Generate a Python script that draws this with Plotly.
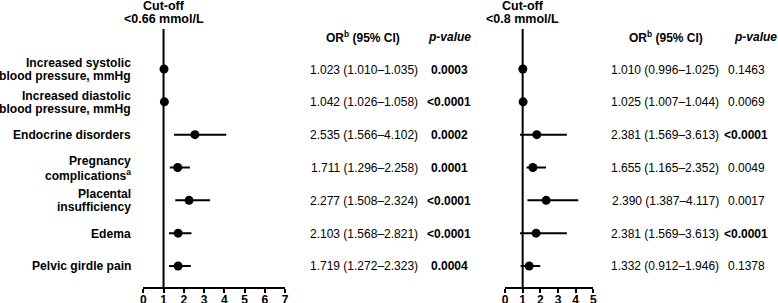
import plotly.graph_objects as go

# ---------------- data ----------------
row_keys = ["sys", "dia", "endo", "preg", "plac", "edema", "pelvic"]
row_labels = [
    ["Increased systolic", "blood pressure, mmHg"],
    ["Increased diastolic", "blood pressure, mmHg"],
    ["Endocrine disorders"],
    ["Pregnancy", "complications<sup>a</sup>"],
    ["Placental", "insufficiency"],
    ["Edema"],
    ["Pelvic girdle pain"],
]

# plotted odds ratios / CI (as drawn), cut-off <0.66 mmol/L
or_066 = [1.023, 1.042, 2.55, 1.70, 2.26, 1.72, 1.72]
lo_066 = [1.010, 1.026, 1.52, 1.31, 1.58, 1.27, 1.27]
hi_066 = [1.035, 1.058, 4.10, 2.30, 3.30, 2.38, 2.35]

# plotted odds ratios / CI (as drawn), cut-off <0.8 mmol/L
or_08 = [1.010, 1.025, 1.80, 1.58, 2.33, 1.76, 1.37]
lo_08 = [0.996, 1.007, 0.85, 1.22, 1.27, 0.85, 0.88]
hi_08 = [1.025, 1.044, 3.50, 2.32, 4.15, 3.50, 2.00]

ci_text_066 = ["1.023 (1.010–1.035)", "1.042 (1.026–1.058)", "2.535 (1.566–4.102)",
               "1.711 (1.296–2.258)", "2.277 (1.508–2.324)", "2.103 (1.568–2.821)",
               "1.719 (1.272–2.323)"]
p_066 = ["0.0003", "<0.0001", "0.0002", "0.0001", "<0.0001", "<0.0001", "0.0004"]

ci_text_08 = ["1.010 (0.996–1.025)", "1.025 (1.007–1.044)", "2.381 (1.569–3.613)",
              "1.655 (1.165–2.352)", "2.390 (1.387–4.117)", "2.381 (1.569–3.613)",
              "1.332 (0.912–1.946)"]
p_08 = ["0.1463", "0.0069", "<0.0001", "0.0049", "0.0017", "<0.0001", "0.1378"]

ticks_066 = [0, 1, 2, 3, 4, 5, 6, 7]
ticks_08 = [0, 1, 2, 3, 4, 5]

# ---------------- layout helpers ----------------
W, H = 778, 303
FONT = "Liberation Sans, Arial, Helvetica, sans-serif"
AX_Y = 287.3  # pixel y of x-axis line
LBL_SIZE = 12.1
TBL_SIZE = 12.0


def px(x):
    return x / W


def py(y):
    return (H - y) / H


def p_num(s):
    return float(s.replace("<", ""))


def p_fmt(s):
    t = s.replace("<", "&lt;")
    return f"<b>{t}</b>" if p_num(s) < 0.001 else t


fig = go.Figure()

for xs, los, his, xa in [(or_066, lo_066, hi_066, "x"), (or_08, lo_08, hi_08, "x2")]:
    fig.add_trace(go.Scatter(
        x=xs, y=row_keys, mode="markers", xaxis=xa, yaxis="y",
        marker=dict(color="black", size=9),
        error_x=dict(type="data", symmetric=False,
                     array=[h - v for h, v in zip(his, xs)],
                     arrayminus=[v - l for v, l in zip(xs, los)],
                     color="black", thickness=2, width=0),
        showlegend=False, cliponaxis=False,
    ))

axis_common = dict(showgrid=False, zeroline=False, showline=True, linecolor="black",
                   linewidth=2, ticks="outside", ticklen=4, tickwidth=2, tickcolor="black",
                   tickfont=dict(family=FONT, size=12, color="black", weight="bold"),
                   anchor="y", fixedrange=True, automargin=False, ticklabelstandoff=-4)

fig.update_layout(
    template="none",
    width=W, height=H,
    margin=dict(l=0, r=0, t=0, b=0, autoexpand=False),
    paper_bgcolor="white", plot_bgcolor="white",
    font=dict(family=FONT, color="black"),
    xaxis=dict(domain=[px(143.3), px(285.0)], range=[0, 7], tickvals=ticks_066, **axis_common),
    xaxis2=dict(domain=[px(505.0), px(593.3)], range=[0, 5], tickvals=ticks_08, **axis_common),
    yaxis=dict(domain=[py(AX_Y), 1], range=[6.649, -2.102], type="category",
               categoryorder="array", categoryarray=row_keys, automargin=False,
               showticklabels=False, showgrid=False, zeroline=False, showline=False,
               fixedrange=True),
)

# reference lines at OR = 1
for xr in ["x", "x2"]:
    fig.add_shape(type="line", xref=xr, yref="paper", x0=1, x1=1,
                  y0=py(AX_Y), y1=py(29), line=dict(color="black", width=2))

ann = []
LINE_GAP = 13.3
for key, lines in zip(row_keys, row_labels):
    n = len(lines)
    for i, ln in enumerate(lines):
        shift = ((n - 1) / 2 - i) * LINE_GAP
        ann.append(dict(x=px(133), xref="paper", xanchor="right", y=key, yref="y",
                        yanchor="middle", yshift=shift - 0.5, showarrow=False,
                        text=f"<b>{ln}</b>", font=dict(size=LBL_SIZE, family=FONT, color="black")))

# panel headers
for xr, lines in [("x", ["Cut-off", "&lt;0.66 mmol/L"]), ("x2", ["Cut-off", "&lt;0.8 mmol/L"])]:
    for ln, ypix in zip(lines, [6.5, 19]):
        ann.append(dict(x=1, xref=xr, xanchor="center", y=py(ypix), yref="paper",
                        yanchor="middle", showarrow=False, text=f"<b>{ln}</b>",
                        font=dict(size=12.5, family=FONT, color="black")))

# table headers
for xc, txt in [(363, "<b>OR<sup>b</sup> (95% CI)</b>"), (449, "<b><i>p-value</i></b>"),
                (666, "<b>OR<sup>b</sup> (95% CI)</b>"), (755, "<b><i>p-value</i></b>")]:
    ann.append(dict(x=px(xc), xref="paper", xanchor="center", y=py(37), yref="paper",
                    yanchor="middle", showarrow=False, text=txt,
                    font=dict(size=TBL_SIZE, family=FONT, color="black")))

# table values
for key, c1, p1, c2, p2 in zip(row_keys, ci_text_066, p_066, ci_text_08, p_08):
    for xc, txt in [(364, c1), (449, p_fmt(p1)), (665, c2), (746, p_fmt(p2))]:
        ann.append(dict(x=px(xc), xref="paper", xanchor="center", y=key, yref="y",
                        yanchor="middle", yshift=-0.5, showarrow=False, text=txt,
                        font=dict(size=TBL_SIZE, family=FONT, color="black")))

fig.update_layout(annotations=ann)
fig.write_html(
    "out.html",
    config={"displayModeBar": False},
    post_script="document.body.style.margin='0';document.body.style.overflow='hidden';",
)
